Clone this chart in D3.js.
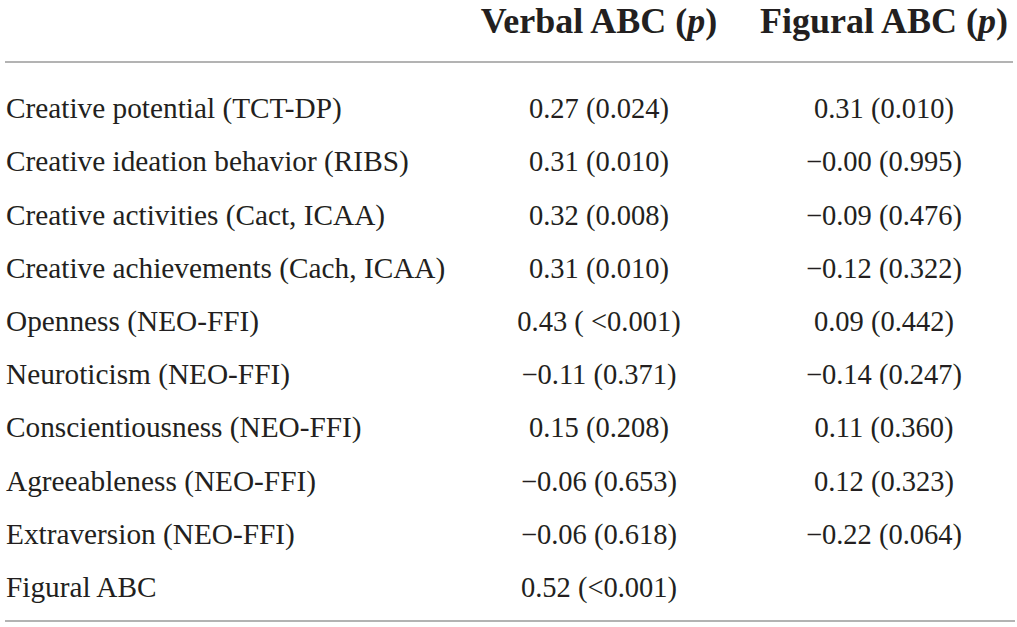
<!DOCTYPE html>
<html><head><meta charset="utf-8">
<script src="https://cdn.jsdelivr.net/npm/d3@7"></script>
<style>
html,body{margin:0;padding:0;background:#fff;}
svg{display:block;}
</style></head>
<body>
<script>
const rowLabels = [
  "Creative potential (TCT-DP)",
  "Creative ideation behavior (RIBS)",
  "Creative activities (Cact, ICAA)",
  "Creative achievements (Cach, ICAA)",
  "Openness (NEO-FFI)",
  "Neuroticism (NEO-FFI)",
  "Conscientiousness (NEO-FFI)",
  "Agreeableness (NEO-FFI)",
  "Extraversion (NEO-FFI)",
  "Figural ABC"
];
const columnHeaders = ["Verbal ABC", "Figural ABC"];
const verbalR = ["0.27","0.31","0.32","0.31","0.43","\u22120.11","0.15","\u22120.06","\u22120.06","0.52"];
const verbalP = ["0.024","0.010","0.008","0.010","<0.001","0.371","0.208","0.653","0.618","<0.001"];
const figuralR = ["0.31","\u22120.00","\u22120.09","\u22120.12","0.09","\u22120.14","0.11","0.12","\u22120.22",""];
const figuralP = ["0.010","0.995","0.476","0.322","0.442","0.247","0.360","0.323","0.064",""];

const W = 1017, H = 627;
const svg = d3.select("body").append("svg").attr("width", W).attr("height", H);
const font = "'Liberation Serif','Times New Roman',serif";

const y = d3.scaleBand().domain(d3.range(rowLabels.length)).range([86, 618]).paddingInner(0);
const x = d3.scaleOrdinal().domain(columnHeaders).range([599, 884]);

// header
const hdr = svg.append("g").attr("font-family", font).attr("font-weight", "bold").attr("font-size", 36).attr("fill", "#231f20");
columnHeaders.forEach(h => {
  const t = hdr.append("text").attr("x", x(h)).attr("y", 33).attr("text-anchor", "middle");
  t.append("tspan").text(h + " (");
  t.append("tspan").attr("font-style", "italic").text("p");
  t.append("tspan").text(")");
});

// rules
svg.append("line").attr("x1", 5).attr("x2", 1013).attr("y1", 62).attr("y2", 62).attr("stroke", "#9a9a9a").attr("stroke-width", 1.6);
svg.append("line").attr("x1", 5).attr("x2", 1015).attr("y1", 621).attr("y2", 621).attr("stroke", "#9a9a9a").attr("stroke-width", 1.6);

const body = svg.append("g").attr("font-family", font).attr("fill", "#231f20");
const rows = body.selectAll("g.row").data(rowLabels.map((l, i) => ({l, i}))).join("g").attr("class", "row")
  .attr("transform", d => `translate(0,${y(d.i) + y.bandwidth() / 2 + 5.5})`);
rows.append("text").attr("x", 6).attr("font-size", 29.3).text(d => d.l);
rows.append("text").attr("x", x(columnHeaders[0])).attr("text-anchor", "middle").attr("font-size", 28.5)
  .text(d => verbalR[d.i] ? `${verbalR[d.i]} (${verbalP[d.i].startsWith("<") && d.i === 4 ? " " : ""}${verbalP[d.i]})` : "");
rows.append("text").attr("x", x(columnHeaders[1])).attr("text-anchor", "middle").attr("font-size", 28.5)
  .text(d => figuralR[d.i] ? `${figuralR[d.i]} (${figuralP[d.i]})` : "");
</script>
</body></html>
